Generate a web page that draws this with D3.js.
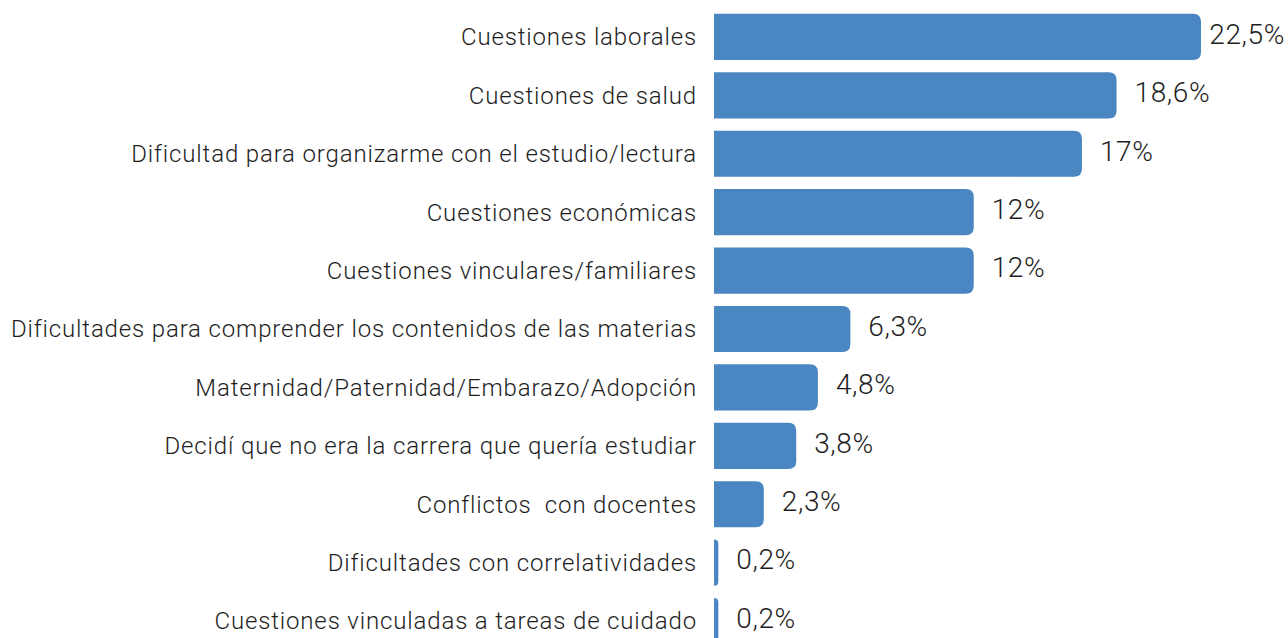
<!DOCTYPE html>
<html><head><meta charset="utf-8">
<script src="https://cdn.jsdelivr.net/npm/d3@7"></script>
<style>
html,body{margin:0;padding:0;background:#fff;overflow:hidden}
text{font-family:Roboto, "Noto Sans", sans-serif;font-weight:300;fill:#1e1e1e;white-space:pre}
</style></head>
<body><svg id="c" width="1288" height="638"></svg>
<script>
const categories = [
  "Cuestiones laborales",
  "Cuestiones de salud",
  "Dificultad para organizarme con el estudio/lectura",
  "Cuestiones económicas",
  "Cuestiones vinculares/familiares",
  "Dificultades para comprender los contenidos de las materias",
  "Maternidad/Paternidad/Embarazo/Adopción",
  "Decidí que no era la carrera que quería estudiar",
  "Conflictos  con docentes",
  "Dificultades con correlatividades",
  "Cuestiones vinculadas a tareas de cuidado"
];
const values = [22.5, 18.6, 17, 12, 12, 6.3, 4.8, 3.8, 2.3, 0.2, 0.2];
const valueLabels = ["22,5%","18,6%","17%","12%","12%","6,3%","4,8%","3,8%","2,3%","0,2%","0,2%"];

const W = 1288;
const svg = d3.select("#c");
const x0 = 714;
const x = d3.scaleLinear().domain([0, 22.5]).range([x0, 1201]);
const y = d3.scaleBand().domain(categories).range([8, 650]).paddingInner(0.21).paddingOuter(0.1);

const r = 8;
function barPath(d, i) {
  const xs = x0, xe = x(values[i]), yt = y(d), h = y.bandwidth();
  const rr = Math.min(r, (xe - xs), h / 2);
  return `M${xs},${yt}H${xe - rr}Q${xe},${yt} ${xe},${yt + rr}V${yt + h - rr}Q${xe},${yt + h} ${xe - rr},${yt + h}H${xs}Z`;
}

svg.selectAll("path.bar").data(categories).join("path")
  .attr("class", "bar")
  .attr("d", barPath)
  .attr("fill", "#4a86c1");

svg.selectAll("text.cat").data(categories).join("text")
  .attr("class", "cat")
  .attr("x", 697)
  .attr("y", d => y(d) + y.bandwidth() / 2)
  .attr("dy", "0.35em")
  .attr("text-anchor", "end")
  .style("font-size", "24px")
  .style("letter-spacing", "0.85px")
  .text(d => d);

const vals = svg.selectAll("text.val").data(categories).join("text")
  .attr("class", "val")
  .attr("y", d => y(d) + y.bandwidth() / 2 - 3)
  .attr("dy", "0.35em")
  .style("font-size", "28px")
  .style("letter-spacing", "0.6px")
  .text((d, i) => valueLabels[i]);
vals.attr("x", function(d, i) {
  const w = this.getComputedTextLength();
  return Math.min(x(values[i]) + 18, W - w - 3);
});
</script></body></html>
